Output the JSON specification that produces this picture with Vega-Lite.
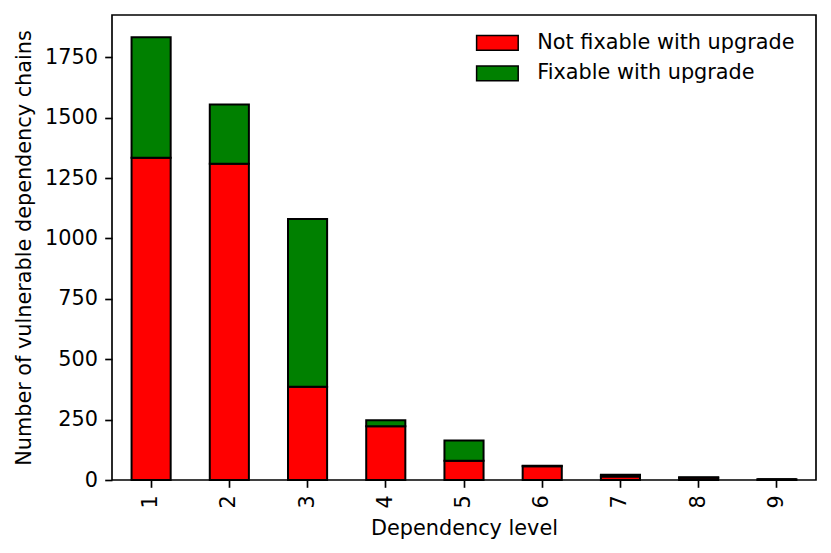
{
  "$schema": "https://vega.github.io/schema/vega-lite/v6.json",
  "width": 704,
  "height": 465,
  "autosize": {"type": "none"},
  "padding": {"left": 112, "top": 15, "right": 15, "bottom": 73},
  "background": "white",
  "config": {
    "font": "DejaVu Sans",
    "view": {"stroke": "black", "strokeWidth": 1.67},
    "axis": {
      "grid": false,
      "domainColor": "black",
      "domainWidth": 1.67,
      "tickColor": "black",
      "tickWidth": 1.67,
      "tickSize": 7.3,
      "labelColor": "black",
      "labelFont": "DejaVu Sans",
      "labelFontSize": 20.8,
      "titleFont": "DejaVu Sans",
      "titleFontSize": 20.8,
      "titleFontWeight": "normal",
      "titleColor": "black"
    }
  },
  "data": {
    "values": [
      {"level": 1, "status": "Not fixable with upgrade", "chains": 1334},
      {"level": 1, "status": "Fixable with upgrade", "chains": 499},
      {"level": 2, "status": "Not fixable with upgrade", "chains": 1309},
      {"level": 2, "status": "Fixable with upgrade", "chains": 246},
      {"level": 3, "status": "Not fixable with upgrade", "chains": 386},
      {"level": 3, "status": "Fixable with upgrade", "chains": 694},
      {"level": 4, "status": "Not fixable with upgrade", "chains": 222},
      {"level": 4, "status": "Fixable with upgrade", "chains": 25},
      {"level": 5, "status": "Not fixable with upgrade", "chains": 80},
      {"level": 5, "status": "Fixable with upgrade", "chains": 84},
      {"level": 6, "status": "Not fixable with upgrade", "chains": 57},
      {"level": 6, "status": "Fixable with upgrade", "chains": 2},
      {"level": 7, "status": "Not fixable with upgrade", "chains": 15},
      {"level": 7, "status": "Fixable with upgrade", "chains": 7},
      {"level": 8, "status": "Not fixable with upgrade", "chains": 9},
      {"level": 8, "status": "Fixable with upgrade", "chains": 2},
      {"level": 9, "status": "Not fixable with upgrade", "chains": 3},
      {"level": 9, "status": "Fixable with upgrade", "chains": 0}
    ]
  },
  "mark": {"type": "bar", "stroke": "black", "strokeWidth": 2},
  "encoding": {
    "x": {
      "field": "level",
      "type": "ordinal",
      "title": "Dependency level",
      "scale": {"paddingInner": 0.5, "paddingOuter": 0.25},
      "axis": {"labelAngle": -90, "labelPadding": 7.5, "titlePadding": 10, "domain": false}
    },
    "y": {
      "field": "chains",
      "type": "quantitative",
      "stack": "zero",
      "title": "Number of vulnerable dependency chains",
      "scale": {"domain": [0, 1925], "nice": false},
      "axis": {"values": [0, 250, 500, 750, 1000, 1250, 1500, 1750], "format": "d", "labelPadding": 7.3, "titlePadding": 10, "domain": false}
    },
    "color": {
      "field": "status",
      "type": "nominal",
      "scale": {
        "domain": ["Not fixable with upgrade", "Fixable with upgrade"],
        "range": ["#ff0000", "#008000"]
      },
      "legend": {
        "title": null,
        "orient": "none",
        "legendX": 375,
        "legendY": 17.5,
        "padding": 0,
        "symbolType": "M-2.85,-1H2.85V1H-2.85Z",
        "symbolSize": 213,
        "symbolStrokeColor": "black",
        "symbolStrokeWidth": 1.5,
        "symbolOpacity": 1,
        "labelFont": "DejaVu Sans",
        "labelFontSize": 20.8,
        "labelColor": "black",
        "labelOffset": 29.5,
        "labelLimit": 400,
        "rowPadding": 8.5
      }
    },
    "order": {"field": "status", "sort": "descending"}
  }
}
